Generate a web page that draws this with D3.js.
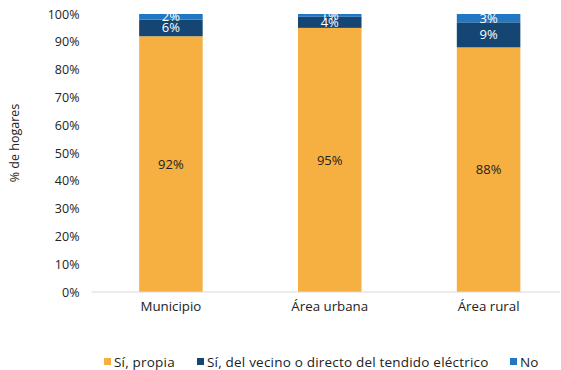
<!DOCTYPE html>
<html>
<head>
<meta charset="utf-8">
<script src="https://cdn.jsdelivr.net/npm/d3@7"></script>
<style>
  html, body { margin: 0; padding: 0; background: #fff; }
  svg { display: block; font-family: "Open Sans", "Noto Sans", sans-serif; }
</style>
</head>
<body>
<svg id="chart" width="561" height="370"></svg>
<script>
// Categories and stacked shares (percent of households)
const categories = ["Municipio", "Área urbana", "Área rural"];
const seriesNames = ["Sí, propia", "Sí, del vecino o directo del tendido eléctrico", "No"];
const propia = [92, 95, 88];
const vecino = [6, 4, 9];
const no = [2, 1, 3];
const yTicks = [0, 10, 20, 30, 40, 50, 60, 70, 80, 90, 100];
const colors = ["#F5B041", "#154673", "#2177C1"];
const labelColors = ["#222", "#fff", "#fff"];

const svg = d3.select("#chart");
const margin = { left: 91.5, right: -7, top: 14, bottom: 78 };
const W = 561, H = 370;

const rows = categories.map((c, i) => ({ cat: c, s0: propia[i], s1: vecino[i], s2: no[i] }));
const keys = ["s0", "s1", "s2"];
const stacked = d3.stack().keys(keys)(rows);

const x = d3.scaleBand().domain(categories)
  .range([margin.left, W - margin.right]).paddingInner(0.6).paddingOuter(0.3);
const y = d3.scaleLinear().domain([0, 100]).range([H - margin.bottom, margin.top]);

// bars
const g = svg.append("g");
stacked.forEach((layer, li) => {
  g.selectAll(null).data(layer).enter().append("rect")
    .attr("x", d => x(d.data.cat))
    .attr("width", x.bandwidth())
    .attr("y", d => y(d[1]))
    .attr("height", d => y(d[0]) - y(d[1]))
    .attr("fill", colors[li]);
});

// baseline
svg.append("line")
  .attr("x1", margin.left).attr("x2", 560)
  .attr("y1", y(0)).attr("y2", y(0))
  .attr("stroke", "#d9d9d9").attr("stroke-width", 1);

// value labels
stacked.forEach((layer, li) => {
  g.selectAll(null).data(layer).enter().append("text")
    .attr("x", d => x(d.data.cat) + x.bandwidth() / 2)
    .attr("y", d => (y(d[0]) + y(d[1])) / 2)
    .attr("dy", "0.35em")
    .attr("text-anchor", "middle")
    .attr("font-size", 13)
    .attr("fill", labelColors[li])
    .text(d => (d[1] - d[0]) + "%");
});

// y axis
const yAxis = d3.axisLeft(y).tickValues(yTicks).tickFormat(d => d + "%").tickSize(0).tickPadding(12);
const ya = svg.append("g").attr("transform", `translate(${margin.left},0)`).call(yAxis);
ya.select(".domain").remove();
ya.selectAll("text").attr("font-size", 12.5).attr("fill", "#222")
  .style("font-family", "'Open Sans', 'Noto Sans', sans-serif");

// x axis
const xAxis = d3.axisBottom(x).tickSize(0).tickPadding(10);
const xa = svg.append("g").attr("transform", `translate(0,${y(0)})`).call(xAxis);
xa.select(".domain").remove();
xa.selectAll("text").attr("font-size", 13.3).attr("fill", "#222")
  .style("font-family", "'Open Sans', 'Noto Sans', sans-serif");

// y title
svg.append("text")
  .attr("transform", "translate(19,143) rotate(-90)")
  .attr("text-anchor", "middle")
  .attr("font-size", 12.5).attr("fill", "#222")
  .text("% de hogares");

// legend
const legendX = [104, 197, 510];
const lg = svg.append("g");
seriesNames.forEach((name, i) => {
  lg.append("rect").attr("x", legendX[i]).attr("y", 358).attr("width", 7).attr("height", 7).attr("fill", colors[i]);
  lg.append("text").attr("x", legendX[i] + 10).attr("y", 362).attr("dy", "0.35em")
    .attr("font-size", 13.5).attr("letter-spacing", 0.2).attr("fill", "#222").text(name);
});
</script>
</body>
</html>
